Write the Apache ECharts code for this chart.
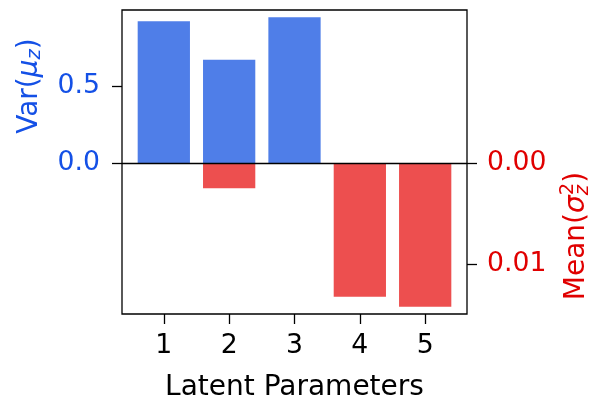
<!DOCTYPE html>
<html>
<head>
<meta charset="utf-8">
<script src="https://cdn.jsdelivr.net/npm/echarts@6/dist/echarts.min.js"></script>
<style>
  html, body { margin: 0; padding: 0; background: #ffffff; }
  #chart { width: 592px; height: 401px; }
</style>
</head>
<body>
<div id="chart"></div>
<script>
// Latent parameter indices
const categories = [1, 2, 3, 4, 5];
// Variance of the latent means (left axis)
const varMu = [0.922, 0.671, 0.948, 0, 0];
// Mean of the latent variances (right axis, drawn downwards)
const meanSigma = [0, 0.0025, 0, 0.01327, 0.01426];
// Tick labels
const leftTicks = [0, 0.5];
const rightTicks = [0, 0.01];

const BLUE_BAR = '#4f7ee8';
const RED_BAR = '#ed4f4f';
const BLUE_TXT = '#1450e6';
const RED_TXT = '#e00000';
const FONT = 'DejaVu Sans';
const FS = 26.7;      // tick labels
const FS_T = 28;      // axis titles

const grid = { left: 122, top: 10, width: 345, height: 304 };
const xMin = 0.36, xMax = 5.64, barW = 0.8;
const barPx = barW * grid.width / (xMax - xMin);

const chart = echarts.init(document.getElementById('chart'), null, { renderer: 'canvas' });

// text measuring for the rotated axis titles
const mctx = document.createElement('canvas').getContext('2d');
function textWidth(str, font) { mctx.font = font; return mctx.measureText(str).width; }

// Builds a vertical (bottom-to-top) label from pieces: {t, size, italic, dy, stack}
function verticalLabel(pieces, cx, cy, color) {
  const children = [];
  let x = 0;
  const laid = [];
  for (const p of pieces) {
    const font = (p.italic ? 'italic ' : '') + p.size + 'px "' + FONT + '"';
    const w = textWidth(p.t, font);
    if (p.stack) {
      // shares the x position of the previous piece
      const prev = laid[laid.length - 1];
      laid.push({ p, font, x: prev.x, w });
      x = Math.max(prev.x + prev.w, prev.x + w);
    } else {
      laid.push({ p, font, x, w });
      x += w;
    }
  }
  const total = x;
  for (const l of laid) {
    children.push({
      type: 'text',
      x: l.x - total / 2,
      y: l.p.dy || 0,
      style: { text: l.p.t, font: l.font, fill: color, align: 'left', verticalAlign: 'middle' }
    });
  }
  return { type: 'group', x: cx, y: cy, rotation: Math.PI / 2, children };
}

const leftTitle = verticalLabel([
  { t: 'Var(', size: FS_T },
  { t: 'μ', size: FS_T, italic: true },
  { t: 'z', size: FS_T * 0.7, italic: true, dy: 5 },
  { t: ')', size: FS_T }
], 30, 86, BLUE_TXT);

const rightTitle = verticalLabel([
  { t: 'Mean(', size: FS_T },
  { t: 'σ', size: FS_T, italic: true },
  { t: 'z', size: FS_T * 0.7, italic: true, dy: 6 },
  { t: '2', size: FS_T * 0.7, dy: -9, stack: true },
  { t: ')', size: FS_T }
], 577, 236, RED_TXT);

const option = {
  backgroundColor: '#ffffff',
  animation: false,
  grid: {
    left: grid.left, top: grid.top, width: grid.width, height: grid.height,
    outerBoundsMode: 'none', containLabel: false,
    show: true, borderColor: '#000000', borderWidth: 1.3, backgroundColor: 'transparent'
  },
  xAxis: {
    type: 'value',
    min: xMin, max: xMax,
    name: 'Latent Parameters',
    nameLocation: 'middle',
    nameGap: 60,
    nameTextStyle: { fontFamily: FONT, fontSize: FS_T, color: '#000000' },
    axisLine: { show: false, onZero: false },
    splitLine: { show: false },
    axisTick: { show: true, customValues: categories, length: 10, lineStyle: { color: '#000', width: 1.3 } },
    axisLabel: { customValues: categories, margin: 19, fontFamily: FONT, fontSize: FS, color: '#000000',
                 formatter: v => String(v) }
  },
  yAxis: [
    {
      type: 'value', position: 'left',
      min: -0.983, max: 0.995,
      axisLine: { show: false, onZero: false },
      splitLine: { show: false },
      axisTick: { show: true, customValues: leftTicks, length: 10, lineStyle: { color: '#000', width: 1.3 } },
      axisLabel: { customValues: leftTicks, margin: 22, fontFamily: FONT, fontSize: FS, color: BLUE_TXT,
                   formatter: v => v.toFixed(1) }
    },
    {
      type: 'value', position: 'right', inverse: true,
      min: -0.01517, max: 0.01498,
      axisLine: { show: false, onZero: false },
      splitLine: { show: false },
      axisTick: { show: true, customValues: rightTicks, length: 10, lineStyle: { color: '#000', width: 1.3 } },
      axisLabel: { customValues: rightTicks, margin: 20, fontFamily: FONT, fontSize: FS, color: RED_TXT,
                   formatter: v => v.toFixed(2) }
    }
  ],
  series: [
    {
      type: 'bar', yAxisIndex: 0,
      data: categories.map((c, i) => [c, varMu[i]]),
      barWidth: barPx, barGap: '-100%',
      itemStyle: { color: BLUE_BAR }
    },
    {
      type: 'bar', yAxisIndex: 1,
      data: categories.map((c, i) => [c, meanSigma[i]]),
      barWidth: barPx, barGap: '-100%',
      itemStyle: { color: RED_BAR },
      markLine: {
        silent: true, symbol: 'none', label: { show: false },
        lineStyle: { color: '#000000', width: 1.3, type: 'solid' },
        data: [{ yAxis: 0 }]
      }
    }
  ],
  graphic: [leftTitle, rightTitle]
};

chart.setOption(option);
</script>
</body>
</html>
